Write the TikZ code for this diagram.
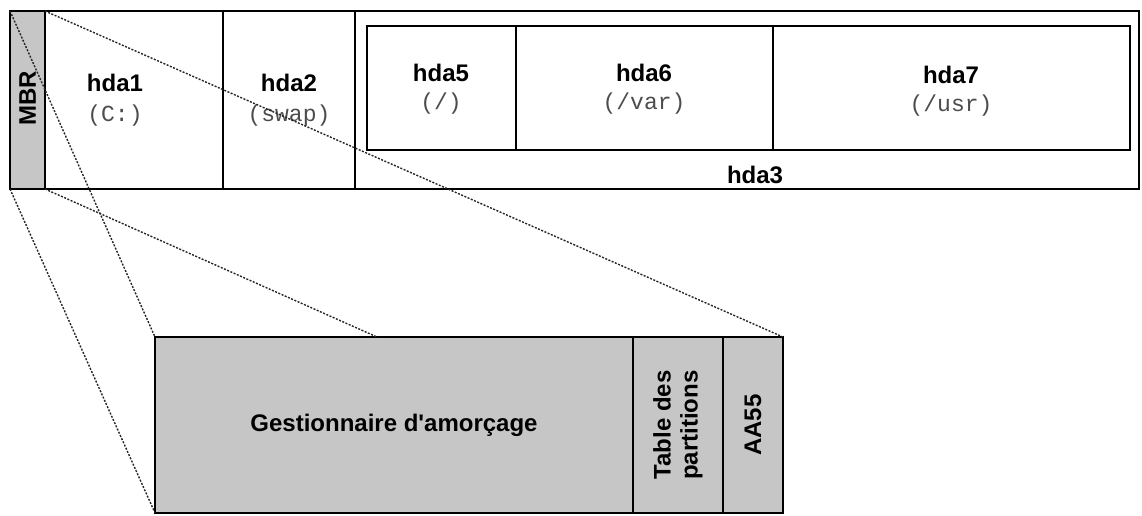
\documentclass[tikz,border=0pt]{standalone}
\usepackage{fontspec}
\setmainfont{Liberation Sans}
\newfontfamily\monof{Liberation Mono}
\begin{document}
\begin{tikzpicture}[x=1pt,y=-1pt,
  part/.style={draw=black, line width=1.2pt, anchor=north west, inner sep=0pt, outer sep=0pt},
  grey/.style={part, fill=mbrgrey},
  lbl/.style={font=\fontsize{24}{28}\selectfont\bfseries, inner sep=0pt},
  mono/.style={font=\fontsize{23}{27}\selectfont\monof, text=black!70, inner sep=0pt},
  zoomline/.style={dash pattern=on 2pt off 1.5pt, line width=1.4pt, draw=black!85}]
\definecolor{mbrgrey}{HTML}{C6C6C6}
\useasboundingbox (0,0) rectangle (1142,515);
% top bar
\node[grey, minimum width=35pt, minimum height=178pt] (mbr) at (10,11) {};
\node[part, minimum width=178pt, minimum height=178pt] (hda1) at (45,11) {};
\node[part, minimum width=132pt, minimum height=178pt] (hda2) at (223,11) {};
\node[part, minimum width=784pt, minimum height=178pt] (hda3) at (355,11) {};
\node[part, minimum width=149pt, minimum height=124pt] (hda5) at (367,26) {};
\node[part, minimum width=257pt, minimum height=124pt] (hda6) at (516,26) {};
\node[part, minimum width=357pt, minimum height=124pt] (hda7) at (773,26) {};
% labels
\node[lbl, rotate=90] (tmbr) at (mbr.center |- 0,98) {MBR};
\node[lbl] (t1) at (115,83) {hda1};
\node[mono] (m1) at (115,116) {(C:)};
\node[lbl] (t2) at (289,83) {hda2};
\node[mono] (m2) at (289,116) {(swap)};
\node[lbl] (t5) at (441,73) {hda5};
\node[mono] (m5) at (441,104) {(/)};
\node[lbl] (t6) at (644,73) {hda6};
\node[mono] (m6) at (644,104) {(/var)};
\node[lbl] (t7) at (951,75) {hda7};
\node[mono] (m7) at (951,106) {(/usr)};
\node[lbl] (t3) at (755,175) {hda3};
% bottom MBR detail
\node[grey, line width=1.4pt, minimum width=478pt, minimum height=176pt] (boot) at (155,337) {};
\node[grey, line width=1.4pt, minimum width=90pt, minimum height=176pt] (table) at (633,337) {};
\node[grey, line width=1.4pt, minimum width=60pt, minimum height=176pt] (sig) at (723,337) {};
\node[lbl] (tboot) at (boot.center) {Gestionnaire d\textquotesingle amorçage};
\node[lbl, rotate=90, align=center, font=\fontsize{24}{27}\selectfont\bfseries] (ttable) at (table.center) {Table des\\partitions};
\node[lbl, rotate=90] (tsig) at (sig.center) {AA55};
% zoom lines
\coordinate (mid) at (377,337);
\draw[zoomline] (mbr.north west) -- (boot.north west);
\draw[zoomline] (mbr.south west) -- (boot.south west);
\draw[zoomline] (mbr.north east) -- (sig.north east);
\draw[zoomline] (mbr.south east) -- (mid);
\end{tikzpicture}
\end{document}
